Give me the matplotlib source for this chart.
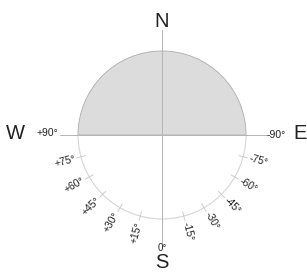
import matplotlib
matplotlib.use("Agg")
import matplotlib.pyplot as plt
import numpy as np
from matplotlib.patches import Wedge, Arc

plt.rcParams["font.family"] = ["Liberation Sans", "DejaVu Sans"]

# tilt angles, measured from south (+ toward west, - toward east)
tick_angles = [90, 75, 60, 45, 30, 15, 0, -15, -30, -45, -60, -75, -90]
tick_labels = ["+90°", "+75°", "+60°", "+45°", "+30°", "+15°", "0°",
               "-15°", "-30°", "-45°", "-60°", "-75°", "-90°"]
compass = {"N": (0, 1.35), "S": (0, -1.52), "W": (-1.75, 0.02), "E": (1.64, 0.02)}

fig = plt.figure(figsize=(3.07, 2.73), dpi=100)
ax = fig.add_axes([0, 0, 1, 1])
ax.set_xlim(-1.929, 1.726)
ax.set_ylim(-1.643, 1.607)
ax.set_aspect("equal")
ax.axis("off")

# shaded northern half
ax.add_patch(Wedge((0, 0), 1.0, 0, 180, facecolor="#dcdcdc", edgecolor="#b4b4b4", lw=0.7))
# southern half outline
ax.add_patch(Arc((0, 0), 2.0, 2.0, theta1=180, theta2=360, color="#d6d6d6", lw=0.8))

ax.plot([-1.214, 1.25], [0, 0], color="#b4b4b4", lw=0.7)
ax.plot([0, 0], [1.25, -1.28], color="#b4b4b4", lw=0.7)

fs = 7.5
for a, lab in zip(tick_angles, tick_labels):
    phi = np.deg2rad(270 - a)
    c, s = np.cos(phi), np.sin(phi)
    if abs(a) in (0, 90):
        if a == 0:
            ax.text(0, -1.345, lab, ha="center", va="center", fontsize=7, color="#222222")
        elif a > 0:
            ax.text(-1.23, 0.02, lab, ha="right", va="center", fontsize=fs, color="#222222")
        else:
            ax.text(1.25, 0.0, lab, ha="left", va="center", fontsize=fs, color="#222222")
        continue
    ax.plot([0.95 * c, 1.05 * c], [0.95 * s, 1.05 * s], color="#cccccc", lw=0.7)
    r = 1.07
    if a > 0:
        ax.text(r * c, r * s, lab, rotation=90 - a, rotation_mode="anchor",
                ha="right", va="center", fontsize=fs, color="#222222")
    else:
        ax.text(r * c, r * s, lab, rotation=-90 - a, rotation_mode="anchor",
                ha="left", va="center", fontsize=fs, color="#222222")

for k, (x, y) in compass.items():
    ax.text(x, y, k, ha="center", va="center", fontsize=14.5, color="#222222")

fig.savefig("out.png", dpi=100)
